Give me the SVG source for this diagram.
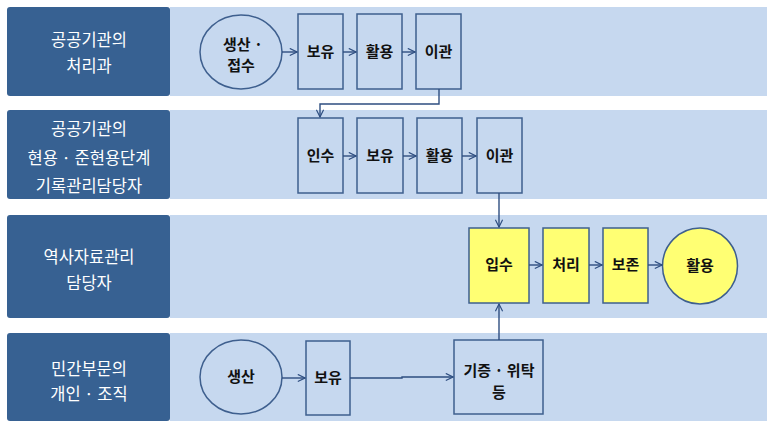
<svg xmlns="http://www.w3.org/2000/svg" width="767" height="422" viewBox="0 0 767 422">
  <defs>
    <style>
      .hdr { fill: #376192; }
      .band { fill: #C6D8EF; }
      .box { fill: #C6D8EF; stroke: #3E5F8E; stroke-width: 1.5; }
      .ybox { fill: #FFFF73; stroke: #3E5F8E; stroke-width: 1.5; }
      .hdrtxt { font-family: "Noto Sans CJK KR", "Noto Sans", sans-serif; font-size: 16.5px; fill: #FFFFFF; text-anchor: middle; }
      .ntxt { font-family: "Noto Sans CJK KR", "Noto Sans", sans-serif; font-size: 15px; font-weight: bold; fill: #111111; text-anchor: middle; }
      .conn { fill: none; stroke: #2E4E80; stroke-width: 1.4; }
    </style>
    <marker id="arr" viewBox="0 0 10 10" refX="9" refY="5" markerWidth="9" markerHeight="9" markerUnits="userSpaceOnUse" orient="auto">
      <polyline points="1,1 9,5 1,9" fill="none" stroke="#2E4E80" stroke-width="1.3"/>
    </marker>
  </defs>

  <!-- swimlane bands -->
  <g id="lanes">
    <rect class="band" x="170" y="7" width="597" height="89"/>
    <rect class="band" x="170" y="110" width="597" height="89"/>
    <rect class="band" x="170" y="215" width="597" height="103"/>
    <rect class="band" x="170" y="333" width="597" height="88"/>
  </g>

  <!-- lane headers -->
  <g id="hdr-public">
    <rect class="hdr" x="7" y="7" width="163" height="89" rx="3"/>
    <text class="hdrtxt" x="89" y="46">공공기관의</text>
    <text class="hdrtxt" x="89" y="72">처리과</text>
  </g>
  <g id="hdr-records">
    <rect class="hdr" x="7" y="110" width="163" height="89" rx="3"/>
    <text class="hdrtxt" x="89" y="135">공공기관의</text>
    <text class="hdrtxt" x="89" y="164">현용 · 준현용단계</text>
    <text class="hdrtxt" x="89" y="192">기록관리담당자</text>
  </g>
  <g id="hdr-history">
    <rect class="hdr" x="7" y="215" width="163" height="103" rx="3"/>
    <text class="hdrtxt" x="89" y="263">역사자료관리</text>
    <text class="hdrtxt" x="89" y="289">담당자</text>
  </g>
  <g id="hdr-private">
    <rect class="hdr" x="7" y="333" width="163" height="88" rx="3"/>
    <text class="hdrtxt" x="89" y="375">민간부문의</text>
    <text class="hdrtxt" x="89" y="400">개인 · 조직</text>
  </g>

  <!-- lane 1 nodes -->
  <g id="n1-create">
    <ellipse class="box" cx="241" cy="52" rx="41" ry="37"/>
    <text class="ntxt" x="243" y="50">생산 ·</text>
    <text class="ntxt" x="241" y="71">접수</text>
  </g>
  <g id="n1-hold">
    <rect class="box" x="298" y="14" width="45" height="75"/>
    <text class="ntxt" x="320.5" y="57">보유</text>
  </g>
  <g id="n1-use">
    <rect class="box" x="357" y="14" width="45" height="75"/>
    <text class="ntxt" x="379.5" y="57">활용</text>
  </g>
  <g id="n1-transfer">
    <rect class="box" x="416" y="14" width="45" height="75"/>
    <text class="ntxt" x="438.5" y="57">이관</text>
  </g>

  <!-- lane 2 nodes -->
  <g id="n2-receive">
    <rect class="box" x="298" y="118" width="45" height="75"/>
    <text class="ntxt" x="320.5" y="161">인수</text>
  </g>
  <g id="n2-hold">
    <rect class="box" x="357" y="118" width="46" height="75"/>
    <text class="ntxt" x="380" y="161">보유</text>
  </g>
  <g id="n2-use">
    <rect class="box" x="417" y="118" width="45" height="75"/>
    <text class="ntxt" x="439.5" y="161">활용</text>
  </g>
  <g id="n2-transfer">
    <rect class="box" x="477" y="118" width="45" height="75"/>
    <text class="ntxt" x="499.5" y="161">이관</text>
  </g>

  <!-- lane 3 nodes -->
  <g id="n3-acquire">
    <rect class="ybox" x="469" y="228" width="60" height="75"/>
    <text class="ntxt" x="499" y="270">입수</text>
  </g>
  <g id="n3-process">
    <rect class="ybox" x="543" y="228" width="46" height="75"/>
    <text class="ntxt" x="566" y="270">처리</text>
  </g>
  <g id="n3-preserve">
    <rect class="ybox" x="603" y="228" width="45" height="75"/>
    <text class="ntxt" x="625.5" y="270">보존</text>
  </g>
  <g id="n3-use">
    <ellipse class="ybox" cx="700" cy="266" rx="37.5" ry="38"/>
    <text class="ntxt" x="700" y="271">활용</text>
  </g>

  <!-- lane 4 nodes -->
  <g id="n4-create">
    <ellipse class="box" cx="241" cy="377" rx="41" ry="37"/>
    <text class="ntxt" x="241" y="382">생산</text>
  </g>
  <g id="n4-hold">
    <rect class="box" x="306" y="341" width="44" height="74"/>
    <text class="ntxt" x="328" y="383">보유</text>
  </g>
  <g id="n4-donate">
    <rect class="box" x="454" y="340" width="89" height="74"/>
    <text class="ntxt" x="499" y="376">기증 · 위탁</text>
    <text class="ntxt" x="499" y="398">등</text>
  </g>

  <!-- connectors -->
  <g id="connectors">
    <line class="conn" x1="282" y1="52" x2="297" y2="52" marker-end="url(#arr)"/>
    <line class="conn" x1="343" y1="52" x2="356" y2="52" marker-end="url(#arr)"/>
    <line class="conn" x1="402" y1="52" x2="415" y2="52" marker-end="url(#arr)"/>
    <polyline class="conn" points="439,89 439,104 320,104 320,117" marker-end="url(#arr)"/>
    <line class="conn" x1="343" y1="156" x2="356" y2="156" marker-end="url(#arr)"/>
    <line class="conn" x1="403" y1="156" x2="416" y2="156" marker-end="url(#arr)"/>
    <line class="conn" x1="462" y1="156" x2="476" y2="156" marker-end="url(#arr)"/>
    <line class="conn" x1="499" y1="193" x2="499" y2="227" marker-end="url(#arr)"/>
    <line class="conn" x1="529" y1="265" x2="542" y2="265" marker-end="url(#arr)"/>
    <line class="conn" x1="589" y1="265" x2="602" y2="265" marker-end="url(#arr)"/>
    <line class="conn" x1="648" y1="265" x2="662" y2="265" marker-end="url(#arr)"/>
    <line class="conn" x1="282" y1="378" x2="305" y2="378" marker-end="url(#arr)"/>
    <polyline class="conn" points="350,378 402,378 402,377 453,377" marker-end="url(#arr)"/>
    <line class="conn" x1="499" y1="340" x2="499" y2="304" marker-end="url(#arr)"/>
  </g>
</svg>
